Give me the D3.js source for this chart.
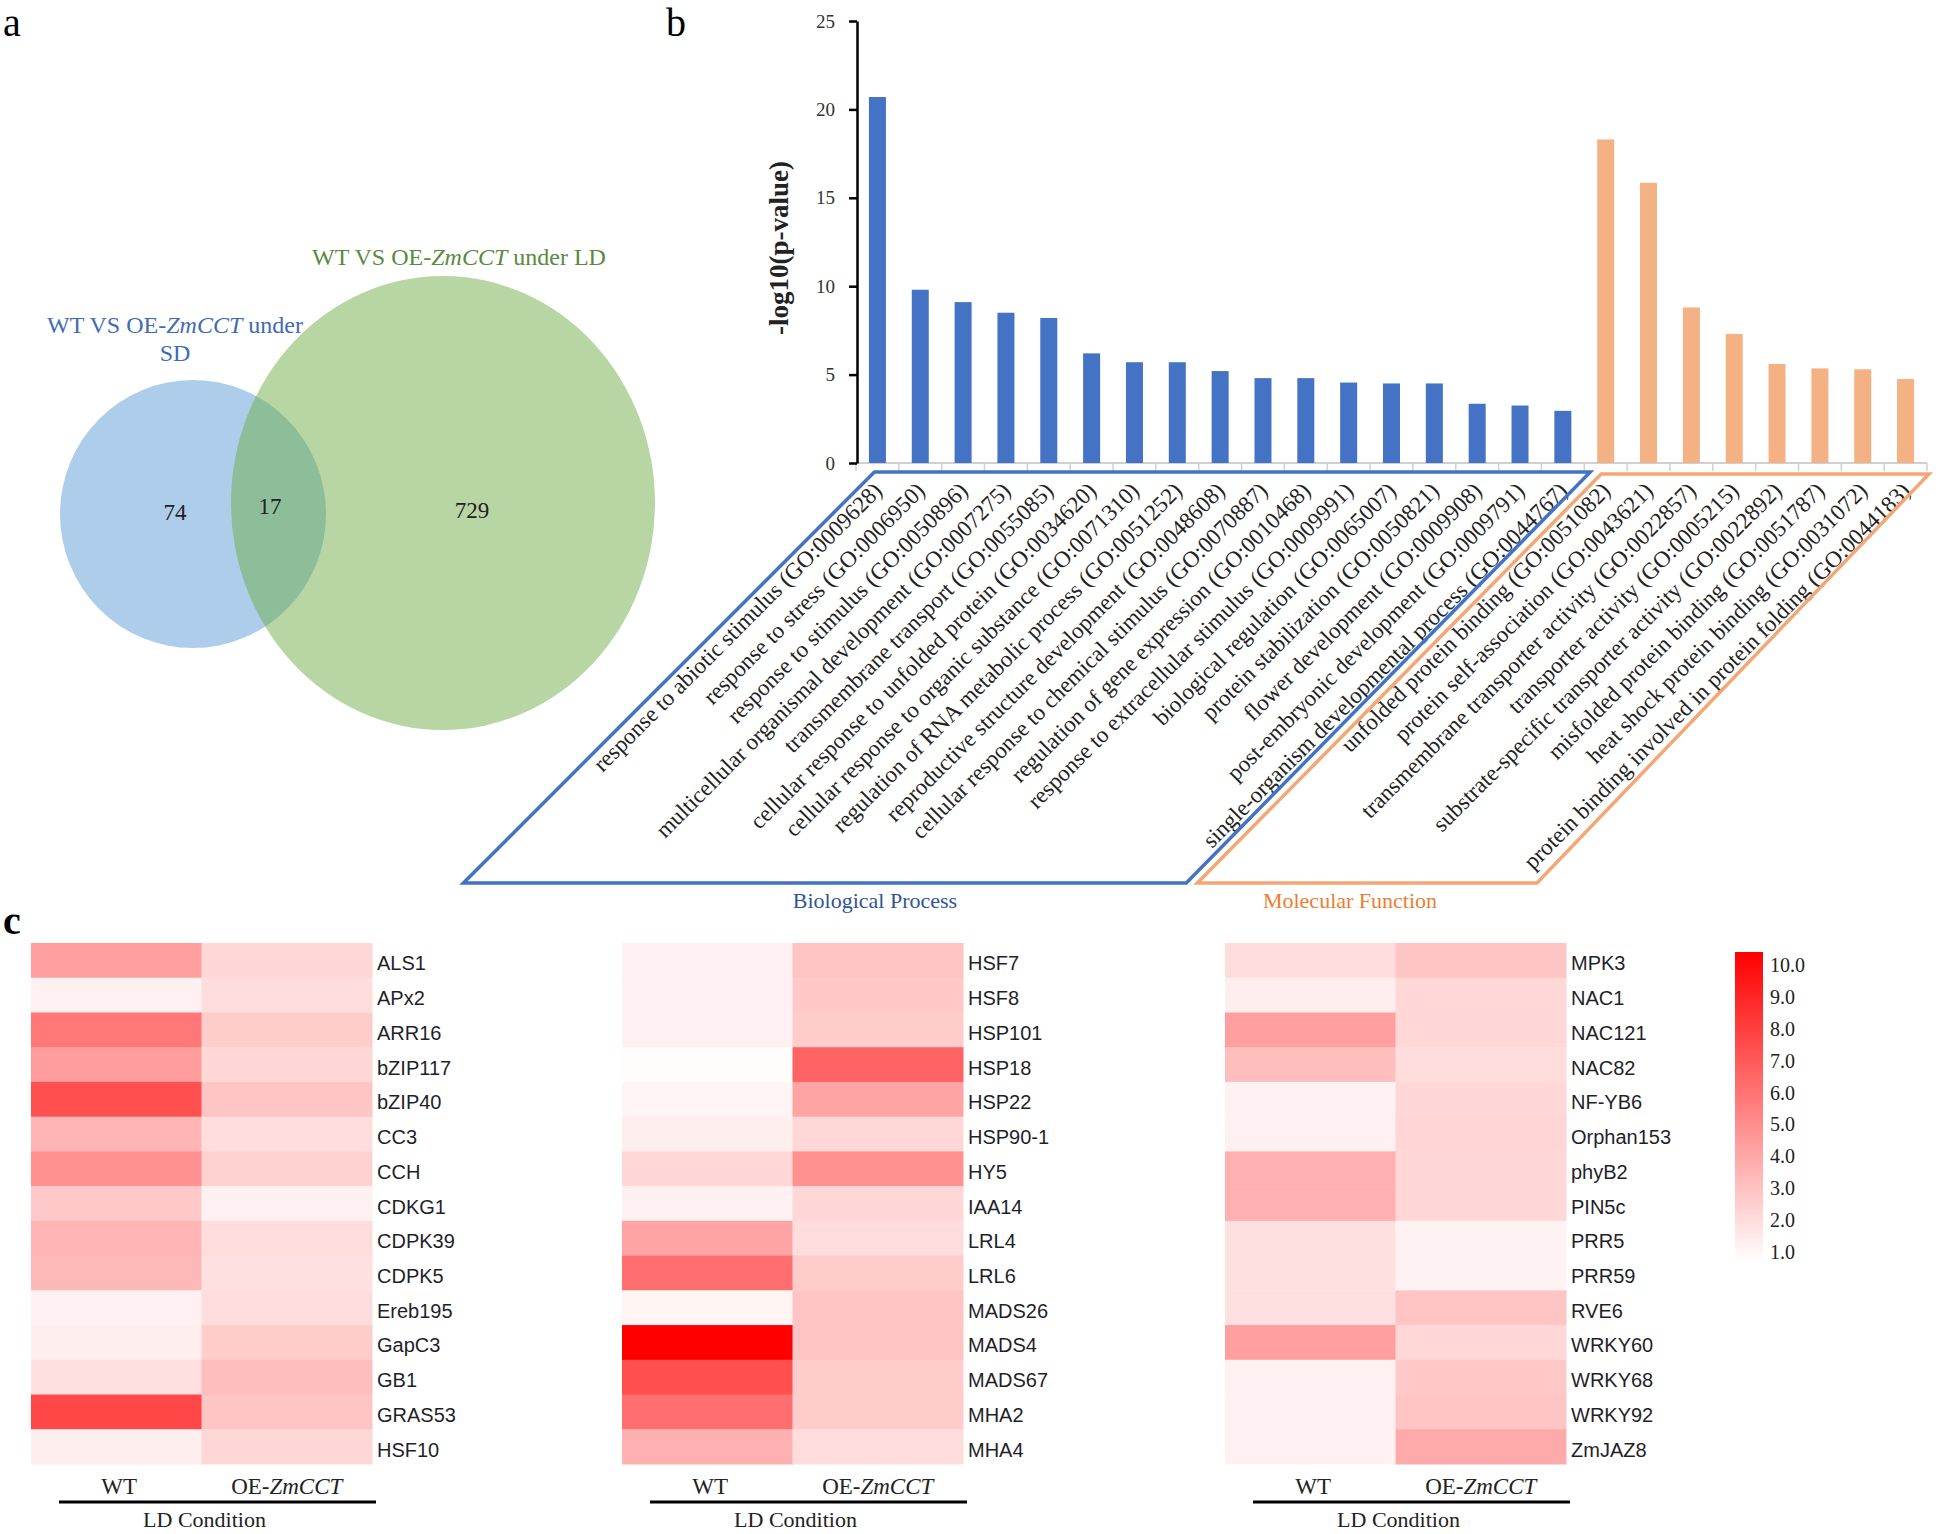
<!DOCTYPE html>
<html>
<head>
<meta charset="utf-8">
<script src="https://cdn.jsdelivr.net/npm/d3@7"></script>
<style>
    body { margin: 0; background: #fff; }
    svg text { font-family: "Liberation Serif", "Times New Roman", serif; }
    svg text.gene { font-family: "Liberation Sans", Arial, sans-serif; }
</style>
</head>
<body>
<svg id="fig" width="1944" height="1534"></svg>
<script>
// ---- panel a : venn counts
const vennCounts = [74, 17, 729];   // SD only, shared, LD only

// ---- panel b : GO enrichment, -log10(p)
const bpTerms = [
    "response to abiotic stimulus (GO:0009628)",
    "response to stress (GO:0006950)",
    "response to stimulus (GO:0050896)",
    "multicellular organismal development (GO:0007275)",
    "transmembrane transport (GO:0055085)",
    "cellular response to unfolded protein (GO:0034620)",
    "cellular response to organic substance (GO:0071310)",
    "regulation of RNA metabolic process (GO:0051252)",
    "reproductive structure development (GO:0048608)",
    "cellular response to chemical stimulus (GO:0070887)",
    "regulation of gene expression (GO:0010468)",
    "response to extracellular stimulus (GO:0009991)",
    "biological regulation (GO:0065007)",
    "protein stabilization (GO:0050821)",
    "flower development (GO:0009908)",
    "post-embryonic development (GO:0009791)",
    "single-organism developmental process (GO:0044767)"];
const bpValues = [20.7, 9.8, 9.1, 8.5, 8.2, 6.2, 5.7, 5.7, 5.2, 4.8, 4.8, 4.55, 4.5, 4.5, 3.35, 3.25, 2.95];

const mfTerms = [
    "unfolded protein binding (GO:0051082)",
    "protein self-association (GO:0043621)",
    "transmembrane transporter activity (GO:0022857)",
    "transporter activity (GO:0005215)",
    "substrate-specific transporter activity (GO:0022892)",
    "misfolded protein binding (GO:0051787)",
    "heat shock protein binding (GO:0031072)",
    "protein binding involved in protein folding (GO:0044183)"];
const mfValues = [18.3, 15.85, 8.8, 7.3, 5.6, 5.35, 5.3, 4.75];

const yTicks = [0, 5, 10, 15, 20, 25];

// ---- panel c : expression heatmaps
const genes1 = ["ALS1", "APx2", "ARR16", "bZIP117", "bZIP40", "CC3", "CCH", "CDKG1",
    "CDPK39", "CDPK5", "Ereb195", "GapC3", "GB1", "GRAS53", "HSF10"];
const wt1 = [4.4, 1.5, 5.8, 4.5, 7.2, 3.6, 4.9, 2.9, 3.6, 3.5, 1.5, 1.6, 2.1, 7.5, 1.6];
const oe1 = [2.4, 2.2, 2.8, 2.4, 3.1, 2.2, 2.6, 1.5, 2.2, 2.1, 2.2, 2.8, 3.3, 3.1, 2.4];

const genes2 = ["HSF7", "HSF8", "HSP101", "HSP18", "HSP22", "HSP90-1", "HY5", "IAA14",
    "LRL4", "LRL6", "MADS26", "MADS4", "MADS67", "MHA2", "MHA4"];
const wt2 = [1.5, 1.5, 1.5, 1.1, 1.35, 1.6, 2.4, 1.5, 4.2, 6.1, 1.35, 10.0, 7.2, 6.1, 3.8];
const oe2 = [3.1, 2.9, 2.8, 6.5, 4.2, 2.4, 4.9, 2.4, 2.2, 2.8, 3.1, 3.1, 2.8, 2.8, 2.2];

const genes3 = ["MPK3", "NAC1", "NAC121", "NAC82", "NF-YB6", "Orphan153", "phyB2", "PIN5c",
    "PRR5", "PRR59", "RVE6", "WRKY60", "WRKY68", "WRKY92", "ZmJAZ8"];
const wt3 = [2.2, 1.6, 4.4, 3.3, 1.5, 1.5, 3.8, 3.8, 2.1, 2.1, 2.1, 4.4, 1.5, 1.5, 1.5];
const oe3 = [3.1, 2.4, 2.4, 2.2, 2.4, 2.5, 2.4, 2.4, 1.45, 1.45, 3.1, 2.4, 2.9, 3.1, 4.0];

const conditions = ["WT", "OE"];
const legendTicks = [1, 2, 3, 4, 5, 6, 7, 8, 9, 10];


const svg = d3.select("#fig");

// panel letters
svg.append("text").attr("x", 3).attr("y", 36).style("font-size", "40px").text("a");
svg.append("text").attr("x", 666).attr("y", 36).style("font-size", "40px").text("b");
svg.append("text").attr("x", 3).attr("y", 934).style("font-size", "40px")
    .style("font-weight", "bold").text("c");

// writes "WT VS OE-<i>ZmCCT</i>" + tail into a text element
function zmLabel(sel, head, tail) {
    sel.append("tspan").text(head);
    sel.append("tspan").style("font-style", "italic").text("ZmCCT");
    if (tail) sel.append("tspan").text(tail);
}

// ================= panel a =================
let venn = svg.append("g");

venn.append("ellipse")
    .attr("cx", 193).attr("cy", 514).attr("rx", 133).attr("ry", 134)
    .style("fill", "#5b9bd5").style("fill-opacity", 0.5);
venn.append("ellipse")
    .attr("cx", 443).attr("cy", 503).attr("rx", 212).attr("ry", 227)
    .style("fill", "#70ad47").style("fill-opacity", 0.5);

let countPos = [[175, 512], [270, 506], [472, 510]];
venn.selectAll("text.count")
    .data(vennCounts)
    .enter().append("text")
    .attr("class", "count")
    .attr("x", (d, i) => countPos[i][0])
    .attr("y", (d, i) => countPos[i][1])
    .attr("text-anchor", "middle")
    .attr("dominant-baseline", "central")
    .style("font-size", "23px")
    .style("fill", "#222")
    .text(d => d);

let sdLab = venn.append("text").attr("x", 175).attr("y", 333)
    .attr("text-anchor", "middle").style("font-size", "24px").style("fill", "#3f6bb5");
zmLabel(sdLab, "WT VS OE-", " under");
venn.append("text").attr("x", 175).attr("y", 361)
    .attr("text-anchor", "middle").style("font-size", "24px").style("fill", "#3f6bb5")
    .text("SD");

let ldLab = venn.append("text").attr("x", 459).attr("y", 265)
    .attr("text-anchor", "middle").style("font-size", "24px").style("fill", "#5a8a3c");
zmLabel(ldLab, "WT VS OE-", " under LD");

// ================= panel b =================
let terms = bpTerms.concat(mfTerms);
let values = bpValues.concat(mfValues);

let x = d3.scaleBand().domain(terms).range([856, 1927]);
let y = d3.scaleLinear().domain([0, 25]).range([463, 21]);
let barW = 17;

let chart = svg.append("g");

// x axis: light grey baseline, ticks between categories
chart.append("line")
    .attr("x1", x.range()[0]).attr("x2", x.range()[1])
    .attr("y1", y(0)).attr("y2", y(0))
    .style("stroke", "#d0d0d0").style("stroke-width", 2);
chart.selectAll("line.xtick")
    .data(d3.range(terms.length + 1))
    .enter().append("line")
    .attr("class", "xtick")
    .attr("x1", i => x.range()[0] + i * x.step())
    .attr("x2", i => x.range()[0] + i * x.step())
    .attr("y1", y(0)).attr("y2", y(0) + 8)
    .style("stroke", "#d0d0d0").style("stroke-width", 1.5);

chart.selectAll("rect.bar")
    .data(terms)
    .enter().append("rect")
    .attr("class", "bar")
    .attr("x", d => x(d) + (x.bandwidth() - barW) / 2)
    .attr("y", (d, i) => y(values[i]))
    .attr("width", barW)
    .attr("height", (d, i) => y(0) - y(values[i]))
    .style("fill", (d, i) => i < bpTerms.length ? "#4472c4" : "#f4b183");

// y axis
let yAxis = chart.append("g")
    .attr("transform", "translate(857,0)")
    .call(d3.axisLeft(y).tickValues(yTicks).tickSize(8).tickSizeOuter(0).tickPadding(14));
yAxis.select(".domain").style("stroke", "#000").style("stroke-width", 2.5);
yAxis.selectAll(".tick line").style("stroke", "#000").style("stroke-width", 2.5);
yAxis.selectAll(".tick text")
    .style("font-family", "'Liberation Serif', serif")
    .style("font-size", "19px").style("fill", "#333");

chart.append("text")
    .attr("transform", "translate(788,248) rotate(-90)")
    .attr("text-anchor", "middle")
    .style("font-size", "27px").style("font-weight", "bold").style("fill", "#222")
    .text("-log10(p-value)");

// rotated category labels
chart.selectAll("text.term")
    .data(terms)
    .enter().append("text")
    .attr("class", "term")
    .attr("transform", d => "translate(" + (x(d) + x.bandwidth() / 2 + 6) + ",492) rotate(-45)")
    .attr("text-anchor", "end")
    .style("font-size", "23px").style("fill", "#222")
    .text(d => d);

// group frames
let bpTop = [x(terms[0]) + x.bandwidth() / 2 - 3, x(terms[bpTerms.length]) + 6];
let mfTop = [x(terms[bpTerms.length]) + 17, x.range()[1] + 2];
let frameBottom = 883;

chart.append("polygon")
    .attr("points", [[bpTop[0], 472], [bpTop[1], 472], [bpTop[1] - 404, frameBottom], [bpTop[0] - 411, frameBottom]].join(" "))
    .style("fill", "none").style("stroke", "#4472c4").style("stroke-width", 3.5);
chart.append("polygon")
    .attr("points", [[mfTop[0], 474], [mfTop[1], 474], [mfTop[1] - 392, frameBottom], [mfTop[0] - 404, frameBottom]].join(" "))
    .style("fill", "none").style("stroke", "#f4a774").style("stroke-width", 3.5);

chart.append("text").attr("x", 875).attr("y", 908).attr("text-anchor", "middle")
    .style("font-size", "22px").style("fill", "#2f5597").text("Biological Process");
chart.append("text").attr("x", 1350).attr("y", 908).attr("text-anchor", "middle")
    .style("font-size", "22px").style("fill", "#ed7d31").text("Molecular Function");

// ================= panel c =================
let color = d3.scaleLinear().domain([1, 10]).range(["#ffffff", "#ff0000"]);

let heatData = [[genes1, wt1, oe1], [genes2, wt2, oe2], [genes3, wt3, oe3]];
let heatLeft = [31, 622, 1225];
let heatWidth = 341;

heatData.forEach(function (h, k) {
    let genes = h[0];
    let g = svg.append("g");
    let col = d3.scaleBand().domain(conditions).range([heatLeft[k], heatLeft[k] + heatWidth]);
    let row = d3.scaleBand().domain(genes).range([943, 1464]);

    let cells = [];
    genes.forEach(function (gene, i) {
        cells.push({gene: gene, cond: "WT", v: h[1][i]});
        cells.push({gene: gene, cond: "OE", v: h[2][i]});
    });

    g.selectAll("rect")
        .data(cells)
        .enter().append("rect")
        .attr("x", d => col(d.cond))
        .attr("y", d => row(d.gene))
        .attr("width", col.bandwidth() + 0.5)
        .attr("height", row.bandwidth() + 0.5)
        .style("fill", d => color(d.v));

    g.selectAll("text.gene")
        .data(genes)
        .enter().append("text")
        .attr("class", "gene")
        .attr("x", heatLeft[k] + heatWidth + 5)
        .attr("y", d => row(d) + row.bandwidth() / 2 + 3)
        .attr("dominant-baseline", "central")
        .style("font-size", "20px").style("fill", "#1f1f2a")
        .text(d => d);

    g.append("text")
        .attr("x", col("WT") + col.bandwidth() / 2 + 3).attr("y", 1494)
        .attr("text-anchor", "middle").style("font-size", "23px").style("fill", "#222")
        .text("WT");
    let oeLab = g.append("text")
        .attr("x", col("OE") + col.bandwidth() / 2).attr("y", 1494)
        .attr("text-anchor", "middle").style("font-size", "23px").style("fill", "#222");
    zmLabel(oeLab, "OE-");

    g.append("line")
        .attr("x1", heatLeft[k] + 28).attr("x2", heatLeft[k] + heatWidth + 4)
        .attr("y1", 1502).attr("y2", 1502)
        .style("stroke", "#000").style("stroke-width", 3);
    g.append("text")
        .attr("x", heatLeft[k] + heatWidth / 2 + 3).attr("y", 1527)
        .attr("text-anchor", "middle").style("font-size", "22px").style("fill", "#222")
        .text("LD Condition");
});

// colour legend
let defs = svg.append("defs");
let grad = defs.append("linearGradient").attr("id", "legendGrad")
    .attr("x1", 0).attr("y1", 1).attr("x2", 0).attr("y2", 0);
grad.append("stop").attr("offset", "0%").attr("stop-color", color(1));
grad.append("stop").attr("offset", "100%").attr("stop-color", color(10));

svg.append("rect")
    .attr("x", 1735).attr("y", 952).attr("width", 28).attr("height", 311)
    .style("fill", "url(#legendGrad)");

let ly = d3.scaleLinear().domain([1, 10]).range([1252, 965]);
svg.selectAll("text.legend")
    .data(legendTicks)
    .enter().append("text")
    .attr("class", "legend")
    .attr("x", 1770)
    .attr("y", d => ly(d))
    .attr("dominant-baseline", "central")
    .style("font-size", "20px").style("fill", "#222")
    .text(d => d3.format(".1f")(d));
</script>
</body>
</html>
